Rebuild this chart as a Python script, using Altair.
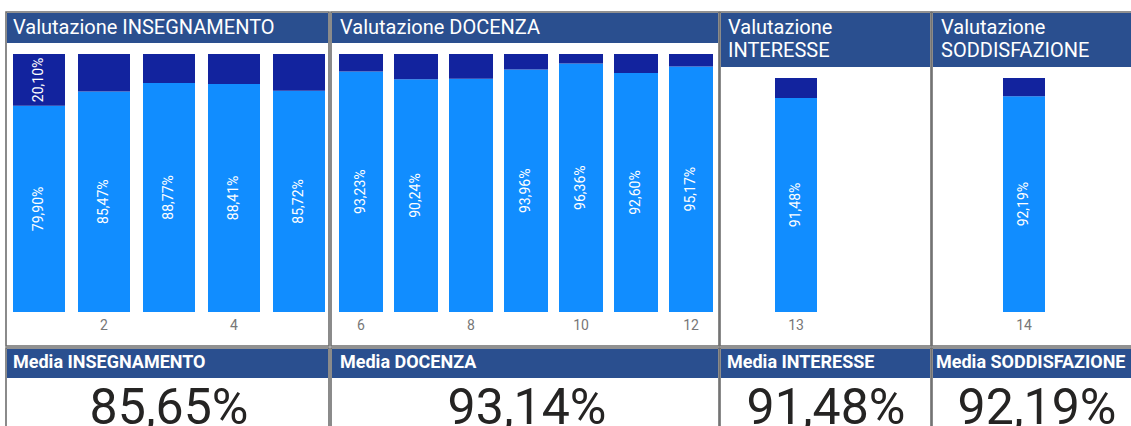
import altair as alt
import pandas as pd

# ---------------- data ----------------
cats_ins = [1, 2, 3, 4, 5]
val_ins = [79.90, 85.47, 88.77, 88.41, 85.72]
show_pos_ins = [True, True, True, True, True]
show_neg_ins = [True, False, False, False, False]
ticks_ins = ["", "2", "", "4", ""]

cats_doc = [6, 7, 8, 9, 10, 11, 12]
val_doc = [93.23, 90.24, 90.42, 93.96, 96.36, 92.60, 95.17]
show_pos_doc = [True, True, False, True, True, True, True]
show_neg_doc = [False] * 7
ticks_doc = ["6", "", "8", "", "10", "", "12"]

cats_int = [13]
val_int = [91.48]
show_pos_int = [True]
show_neg_int = [False]
ticks_int = ["13"]

cats_sod = [14]
val_sod = [92.19]
show_pos_sod = [True]
show_neg_sod = [False]
ticks_sod = ["14"]

panel_titles = [["Valutazione INSEGNAMENTO"], ["Valutazione DOCENZA"],
                ["Valutazione", "INTERESSE"], ["Valutazione", "SODDISFAZIONE"]]
media_titles = ["Media INSEGNAMENTO", "Media DOCENZA", "Media INTERESSE", "Media SODDISFAZIONE"]
media_values = [85.65, 93.14, 91.48, 92.19]

# ---------------- style ----------------
LIGHT = "#118DFF"
DARK = "#12239E"
HEAD = "#2A4F8F"
BORDER = "#6E6E6E"
FONT = "Roboto"


def fmt(v):
    return f"{v:.2f}".replace(".", ",") + "%"


one = alt.Data(values=[{}])


def rect(x0, x1, y0, y1, fill, stroke=None, sw=0):
    kw = dict(fill=fill)
    if stroke:
        kw.update(stroke=stroke, strokeWidth=sw)
    return alt.Chart(one).mark_rect(**kw).encode(
        x=alt.value(x0), x2=alt.value(x1), y=alt.value(y0), y2=alt.value(y1))


def label(x, y, text, size, color, weight="normal", align="left", line_height=None):
    kw = dict(font=FONT, fontSize=size, color=color, fontWeight=weight,
              align=align, baseline="alphabetic", text=text)
    if line_height:
        kw["lineHeight"] = line_height
    return alt.Chart(one).mark_text(**kw).encode(x=alt.value(x), y=alt.value(y))


def panel(cats, vals, show_pos, show_neg, ticks, xr, ytop):
    df = pd.DataFrame({
        "cat": cats,
        "val": vals,
        "top": [100.0] * len(cats),
        "pos_mid": [v / 2 for v in vals],
        "neg_mid": [(v + 100) / 2 for v in vals],
        "pos_lab": [fmt(v) if s else "" for v, s in zip(vals, show_pos)],
        "neg_lab": [fmt(100 - v) if s else "" for v, s in zip(vals, show_neg)],
        "tick": ticks,
    })
    xs = alt.Scale(range=xr, paddingInner=0.2, paddingOuter=0)
    ys = alt.Scale(domain=[0, 100], range=[312, ytop], nice=False)
    x = alt.X("cat:O", scale=xs, axis=None)
    base = alt.Chart(df)
    light = base.mark_bar(color=LIGHT).encode(
        x=x, y=alt.Y("val:Q", scale=ys, axis=None))
    dark = base.mark_bar(color=DARK).encode(
        x=x, y=alt.Y("val:Q", scale=ys, axis=None), y2="top:Q")
    txt = dict(font=FONT, fontSize=14, color="white", angle=270,
               align="center", baseline="middle")
    pl = base.mark_text(**txt).encode(
        x=x, y=alt.Y("pos_mid:Q", scale=ys, axis=None), text="pos_lab:N")
    nl = base.mark_text(**txt).encode(
        x=x, y=alt.Y("neg_mid:Q", scale=ys, axis=None), text="neg_lab:N")
    tl = base.mark_text(font=FONT, fontSize=14, color="#777777",
                        align="center", baseline="middle").encode(
        x=x, y=alt.value(326), text="tick:N")
    return alt.layer(light, dark, pl, nl, tl)


# panel geometry (absolute pixels)
px = [(6, 329), (331, 719), (720, 931), (932, 1140)]
head_bottom = [43, 43, 67, 67]
title_x = [13, 340, 728, 941]
media_x = [13, 340, 727, 936]
media_cx = [169, 527, 826, 1037]

layers = []
for i, (x0, x1) in enumerate(px):
    layers.append(rect(x0, x1, 12, 346, "white", BORDER, 1.6))
    layers.append(rect(x0 + 1, x1 - 1, 13, head_bottom[i], HEAD))
    layers.append(rect(x0, x1, 348, 440, "white", BORDER, 1.6))
    layers.append(rect(x0 + 1, x1 - 1, 349, 378, HEAD))

panels = [
    panel(cats_ins, val_ins, show_pos_ins, show_neg_ins, ticks_ins, [13, 325], 54),
    panel(cats_doc, val_doc, show_pos_doc, show_neg_doc, ticks_doc, [339, 713], 54),
    panel(cats_int, val_int, show_pos_int, show_neg_int, ticks_int, [775, 817], 78),
    panel(cats_sod, val_sod, show_pos_sod, show_neg_sod, ticks_sod, [1003, 1045], 78),
]
layers.extend(panels)

for i in range(4):
    t = panel_titles[i]
    layers.append(label(title_x[i], 34, t if len(t) > 1 else t[0], 20, "white",
                        line_height=23))
    layers.append(label(media_x[i], 368, media_titles[i], 18, "white", weight="bold"))
    layers.append(label(media_cx[i], 424, fmt(media_values[i]), 50, "#252423",
                        align="center"))

chart = alt.layer(*layers).resolve_scale(
    x="independent", y="independent"
).properties(
    width=1131, height=426,
    autosize=alt.AutoSizeParams(type="none"),
    padding=0,
    background="white",
).configure_view(stroke=None)

chart.save("out.html", embed_options={"renderer": "svg", "actions": False})
